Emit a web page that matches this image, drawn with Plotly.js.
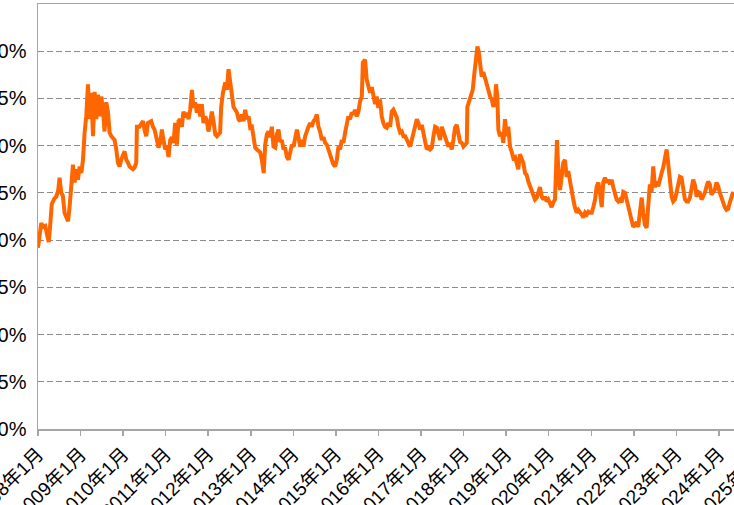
<!DOCTYPE html>
<html><head><meta charset="utf-8">
<script src="https://cdn.plot.ly/plotly-3.0.1.min.js"></script>
<style>
html,body{margin:0;padding:0;overflow:hidden;background:#fff;width:734px;height:505px}
#chart{position:absolute;left:-40px;top:0;width:830px;height:540px}
</style>
</head><body><div id="chart"></div>
<script>
// decimal-year time stamps
const years = [
2008.000,2008.031,2008.078,2008.124,2008.171,2008.218,2008.254,2008.289,2008.324,2008.383,2008.430,2008.477,2008.507,2008.547,2008.582,2008.625,2008.665,2008.705,2008.742,2008.782,2008.822,2008.860,2008.899,2008.939,2008.977,
2009.017,2009.057,2009.094,2009.134,2009.174,2009.212,2009.252,2009.292,2009.329,2009.369,2009.409,2009.447,2009.487,2009.527,2009.564,2009.604,2009.644,2009.682,2009.721,2009.799,2009.839,2009.879,2009.916,2009.956,
2010.034,2010.074,2010.114,2010.151,2010.231,2010.269,2010.309,2010.325,2010.386,2010.466,2010.503,2010.543,2010.583,2010.661,2010.701,2010.738,2010.795,2010.832,2010.872,2010.912,2010.950,2010.990,
2011.030,2011.067,2011.107,2011.147,2011.185,2011.224,2011.264,2011.302,2011.342,2011.381,2011.419,2011.459,2011.499,2011.537,2011.577,2011.617,2011.654,2011.694,2011.734,2011.772,2011.811,2011.851,2011.889,2011.929,2011.969,
2012.007,2012.046,2012.086,2012.124,2012.164,2012.204,2012.241,2012.281,2012.305,2012.345,2012.399,2012.439,2012.476,2012.516,2012.556,2012.594,2012.634,2012.673,2012.711,2012.751,2012.791,2012.828,2012.868,2012.908,2012.946,2012.986,
2013.026,2013.063,2013.103,2013.143,2013.181,2013.221,2013.260,2013.303,2013.338,2013.378,2013.416,2013.456,2013.495,2013.533,2013.573,2013.613,2013.650,2013.690,2013.730,2013.768,2013.808,2013.848,2013.885,2013.925,2013.965,
2014.003,2014.043,2014.083,2014.120,2014.160,2014.200,2014.238,2014.277,2014.317,2014.355,2014.395,2014.435,2014.472,2014.512,2014.552,2014.590,2014.630,2014.670,2014.707,2014.747,2014.787,2014.825,2014.865,2014.904,2014.942,2014.982,
2015.022,2015.060,2015.099,2015.139,2015.177,2015.217,2015.257,2015.294,2015.334,2015.374,2015.412,2015.452,2015.491,2015.529,2015.569,2015.609,2015.633,2015.687,2015.726,2015.764,2015.804,2015.844,2015.882,2015.921,2015.961,2015.999,
2016.039,2016.079,2016.116,2016.156,2016.196,2016.234,2016.274,2016.313,2016.351,2016.391,2016.431,2016.469,2016.509,2016.548,2016.586,2016.626,2016.666,2016.703,2016.743,2016.783,2016.821,2016.860,2016.900,2016.938,2016.978,
2017.018,2017.056,2017.096,2017.135,2017.173,2017.213,2017.253,2017.291,2017.330,2017.370,2017.408,2017.448,2017.487,2017.525,2017.565,2017.605,2017.643,2017.682,2017.722,2017.760,2017.800,2017.840,2017.877,2017.917,2017.957,2017.995,
2018.035,2018.074,2018.089,2018.136,2018.169,2018.216,2018.246,2018.286,2018.324,2018.357,2018.387,2018.427,2018.465,2018.505,2018.545,2018.582,2018.622,2018.662,2018.700,2018.739,2018.763,2018.794,2018.817,2018.857,2018.897,2018.934,2018.974,
2019.014,2019.052,2019.092,2019.132,2019.169,2019.209,2019.249,2019.287,2019.326,2019.366,2019.404,2019.444,2019.484,2019.521,2019.561,2019.601,2019.639,2019.679,2019.719,2019.756,2019.796,2019.836,2019.874,2019.914,2019.953,2019.991,
2020.031,2020.071,2020.109,2020.148,2020.172,2020.196,2020.226,2020.266,2020.306,2020.344,2020.383,2020.423,2020.461,2020.501,2020.541,2020.578,2020.618,2020.658,2020.696,2020.736,2020.775,2020.813,2020.853,2020.893,2020.930,2020.970,
2021.010,2021.048,2021.088,2021.127,2021.165,2021.205,2021.245,2021.282,2021.322,2021.362,2021.400,2021.440,2021.479,2021.517,2021.557,2021.597,2021.635,2021.674,2021.714,2021.752,2021.792,2021.832,2021.869,2021.909,2021.949,2021.986,
2022.026,2022.066,2022.104,2022.144,2022.184,2022.221,2022.261,2022.301,2022.339,2022.378,2022.418,2022.456,2022.496,2022.535,2022.573,2022.613,2022.653,2022.691,2022.730,2022.770,2022.808,2022.848,2022.888,2022.926,2022.966,
2023.006,2023.043,2023.083,2023.123,2023.161,2023.200,2023.240,2023.278,2023.318,2023.357,2023.395,2023.435,2023.475,2023.513,2023.553,2023.592,2023.630,2023.670,2023.710,2023.747,2023.787,2023.827,2023.865,2023.904,2023.944,2023.982,
2024.022,2024.062,2024.099,2024.139,2024.179,2024.217,2024.257,2024.296,2024.334
];
// values in percent
const rates = [
19.2,20.6,21.8,21.4,21.5,20.5,19.8,21.6,23.8,24.4,24.6,25.3,26.6,25.0,24.7,22.9,22.3,22.0,23.5,26.7,28.0,26.1,27.5,26.4,27.8,
27.1,28.5,31.4,33.1,36.5,32.8,35.6,31.0,35.7,32.8,35.4,33.1,35.2,33.8,31.5,34.6,33.5,31.4,31.0,30.6,29.6,28.2,27.8,28.5,
29.4,28.5,28.2,27.8,27.5,27.7,28.2,32.0,32.0,32.6,31.7,31.0,32.4,32.6,32.0,31.7,30.6,29.8,30.3,31.7,30.6,29.6,
29.9,28.8,30.6,30.9,30.3,32.4,30.1,32.6,32.8,32.0,33.6,33.0,33.5,32.8,33.8,35.9,34.0,34.6,33.5,34.4,33.1,34.4,32.4,33.1,32.6,
31.5,32.4,33.6,32.6,31.2,31.0,31.2,31.4,34.1,35.6,36.7,35.9,38.1,36.7,35.2,34.1,33.8,33.5,32.8,32.6,33.3,32.6,33.8,32.8,33.1,31.9,
32.0,31.0,29.8,29.6,29.4,29.3,28.5,27.1,30.1,31.2,31.5,30.9,32.0,29.9,29.8,31.2,31.7,30.4,30.6,29.6,29.8,28.8,28.5,29.3,30.1,
29.9,30.6,31.7,30.9,29.9,30.6,29.9,31.0,31.7,32.0,32.4,32.0,32.6,32.8,33.3,32.0,31.5,30.6,30.9,30.3,30.1,29.6,28.8,28.5,28.0,27.8,
28.5,29.9,29.6,30.6,30.3,31.4,32.4,33.1,32.8,33.5,33.3,33.8,33.1,33.6,34.7,35.2,38.8,39.1,37.0,36.3,35.6,36.2,35.1,34.4,35.2,34.0,
34.9,33.1,32.4,32.0,31.9,32.4,32.0,33.6,33.8,33.3,33.0,32.0,31.4,31.5,31.0,31.0,30.6,30.3,29.9,30.6,31.4,32.4,32.8,32.4,31.7,
32.2,31.5,30.4,29.6,29.8,29.6,29.8,31.0,32.0,31.9,31.4,30.6,32.0,31.5,30.9,30.4,29.9,30.3,29.6,30.6,31.9,32.2,31.2,30.4,30.3,29.9,
30.1,30.3,34.1,34.7,35.2,35.9,37.3,39.1,40.5,39.9,38.4,37.3,37.8,37.0,36.5,35.9,35.2,34.9,34.1,34.6,36.5,35.2,31.7,31.0,31.4,30.3,32.8,
31.0,32.0,29.9,29.3,28.7,28.8,28.2,27.5,29.1,28.5,28.2,27.1,26.9,26.2,25.7,25.1,24.6,24.3,24.5,25.1,25.6,24.6,24.3,24.6,24.1,24.3,
23.8,23.5,24.0,24.3,27.1,30.6,27.5,25.3,26.7,28.2,28.5,26.7,27.3,26.1,25.3,24.3,23.4,22.9,23.2,23.0,22.7,22.4,22.9,22.7,23.0,22.9,
22.9,23.5,24.3,25.7,26.1,25.0,23.5,26.1,26.6,26.1,26.4,25.9,26.4,25.6,24.8,24.3,24.1,24.3,24.0,25.1,25.0,24.3,23.5,22.9,22.2,21.4,
21.6,21.9,21.4,23.2,24.5,22.9,21.6,21.3,24.6,25.9,25.1,27.8,25.6,26.2,25.7,26.6,27.1,27.7,28.8,29.6,28.2,26.1,24.6,24.1,24.3,
25.1,26.1,26.7,26.6,25.1,24.3,24.1,24.1,24.5,25.3,26.4,25.9,24.6,25.1,25.0,24.3,24.6,25.0,25.7,26.2,25.9,24.8,25.1,25.3,26.1,25.7,
25.0,24.5,23.8,23.5,23.2,23.3,24.0,24.6,25.1
];
const yTickVals = [0,5,10,15,20,25,30,35,40,45];
const yTickText = yTickVals.map(v => v + '%');
const xTickStart = '2008-01-01';
const xRange = ['2008-01-01','2025-06-08'];

function toDate(y){
  const yr = Math.floor(y);
  const s = Date.UTC(yr,0,1), e = Date.UTC(yr+1,0,1);
  return new Date(s + (y-yr)*(e-s)).toISOString().slice(0,10);
}
const dates = years.map(toDate);

const trace = {
  x: dates, y: rates, type: 'scatter', mode: 'lines',
  line: {color: '#ff6600', width: 4},
  hoverinfo: 'skip', showlegend: false
};

const FONT = '"Liberation Sans", "Noto Sans CJK JP", sans-serif';
const layout = {
  width: 830, height: 540,
  margin: {l: 78, r: 10, t: 4, b: 111},
  paper_bgcolor: '#fff', plot_bgcolor: '#fff',
  font: {family: FONT, color: '#000', size: 20},
  xaxis: {
    type: 'date', range: xRange, tick0: xTickStart, dtick: 'M12',
    tickformat: '%Y年%-m月', tickangle: -45,
    tickfont: {size: 19, family: FONT, color: '#000'},
    showgrid: false, zeroline: false,
    showline: true, linecolor: '#a6a6a6', linewidth: 1.5, mirror: true,
    ticks: 'outside', ticklen: 5, tickcolor: '#a6a6a6', tickwidth: 1.5
  },
  yaxis: {
    range: [0, 45], tickmode: 'array', tickvals: yTickVals, ticktext: yTickText,
    tickfont: {size: 20, family: FONT, color: '#000'},
    showgrid: true, gridcolor: '#8c8c8c', gridwidth: 1, griddash: '6px,3px',
    zeroline: false, showline: true, linecolor: '#a6a6a6', linewidth: 1.5, mirror: true,
    ticks: '', ticklabelstandoff: 6
  }
};

Plotly.newPlot('chart', [trace], layout, {displayModeBar: false, staticPlot: true});
</script>
</body></html>
